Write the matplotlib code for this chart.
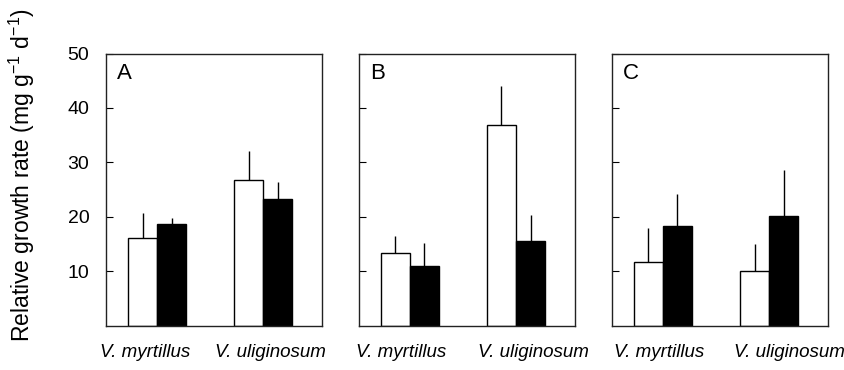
import matplotlib
matplotlib.use("Agg")
import matplotlib.pyplot as plt
import numpy as np

plt.rcParams['font.family'] = ['Liberation Sans', 'DejaVu Sans']
plt.rcParams['mathtext.fontset'] = 'custom'
plt.rcParams['mathtext.rm'] = 'Liberation Sans'
plt.rcParams['mathtext.it'] = 'Liberation Sans:italic'

species = ["V. myrtillus", "V. uliginosum"]
panels = ["A", "B", "C"]

# open bars (mean, upper error)
white_A = [16.1, 26.7]
white_err_A = [4.5, 5.4]
black_A = [18.6, 23.3]
black_err_A = [1.1, 3.1]

white_B = [13.3, 36.9]
white_err_B = [3.2, 7.1]
black_B = [10.9, 15.5]
black_err_B = [4.2, 4.9]

white_C = [11.6, 10.1]
white_err_C = [6.3, 4.9]
black_C = [18.3, 20.1]
black_err_C = [5.9, 8.5]

yticks = [10, 20, 30, 40, 50]

data = [
    (white_A, white_err_A, black_A, black_err_A),
    (white_B, white_err_B, black_B, black_err_B),
    (white_C, white_err_C, black_C, black_err_C),
]
label_shift = [(-0.108, 0.066), (-0.080, 0.160), (-0.033, 0.189)]

fig = plt.figure(figsize=(8.45, 3.7), dpi=100)
lefts = [106/845, 359/845, 612/845]
w_ax = 216/845
b_ax = 1 - 325.5/370
h_ax = 272/370

x = np.array([1.0, 2.0])
bw = 29/106
frame_col = "#222222"

for i, (lab, (wv, we, bv, be)) in enumerate(zip(panels, data)):
    ax = fig.add_axes([lefts[i], b_ax, w_ax, h_ax])
    ax.bar(x - bw/2, wv, width=bw, color="white", edgecolor="black", linewidth=1.0, zorder=2)
    ax.bar(x + bw/2, bv, width=bw, color="black", edgecolor="black", linewidth=1.0, zorder=2)
    ax.errorbar(x - bw/2, wv, yerr=[np.zeros(2), we], fmt="none", ecolor="black",
                elinewidth=1.0, capsize=0, zorder=1)
    ax.errorbar(x + bw/2, bv, yerr=[np.zeros(2), be], fmt="none", ecolor="black",
                elinewidth=1.0, capsize=0, zorder=1)
    ax.set_xlim(1 - 51/106, 1 + 165/106)
    ax.set_ylim(0, 50)
    ax.set_yticks(yticks)
    ax.tick_params(axis="y", direction="in", length=5, width=0.8, color="black",
                   labelsize=14, pad=12)
    if i > 0:
        ax.set_yticklabels([])
    ax.set_xticks(x + np.array(label_shift[i]))
    ax.set_xticklabels(species, fontsize=13.5, style="italic")
    ax.tick_params(axis="x", length=0, pad=13)
    for s in ax.spines.values():
        s.set_color(frame_col)
        s.set_linewidth(1.0)
    ax.text(0.05, 0.965, lab, transform=ax.transAxes, fontsize=16, ha="left", va="top")

fig.text(0.026, 0.527, "Relative growth rate (mg g$^{-1}$ d$^{-1}$)", rotation=90,
         ha="center", va="center", fontsize=16.5)

fig.savefig("out.png", dpi=100)
